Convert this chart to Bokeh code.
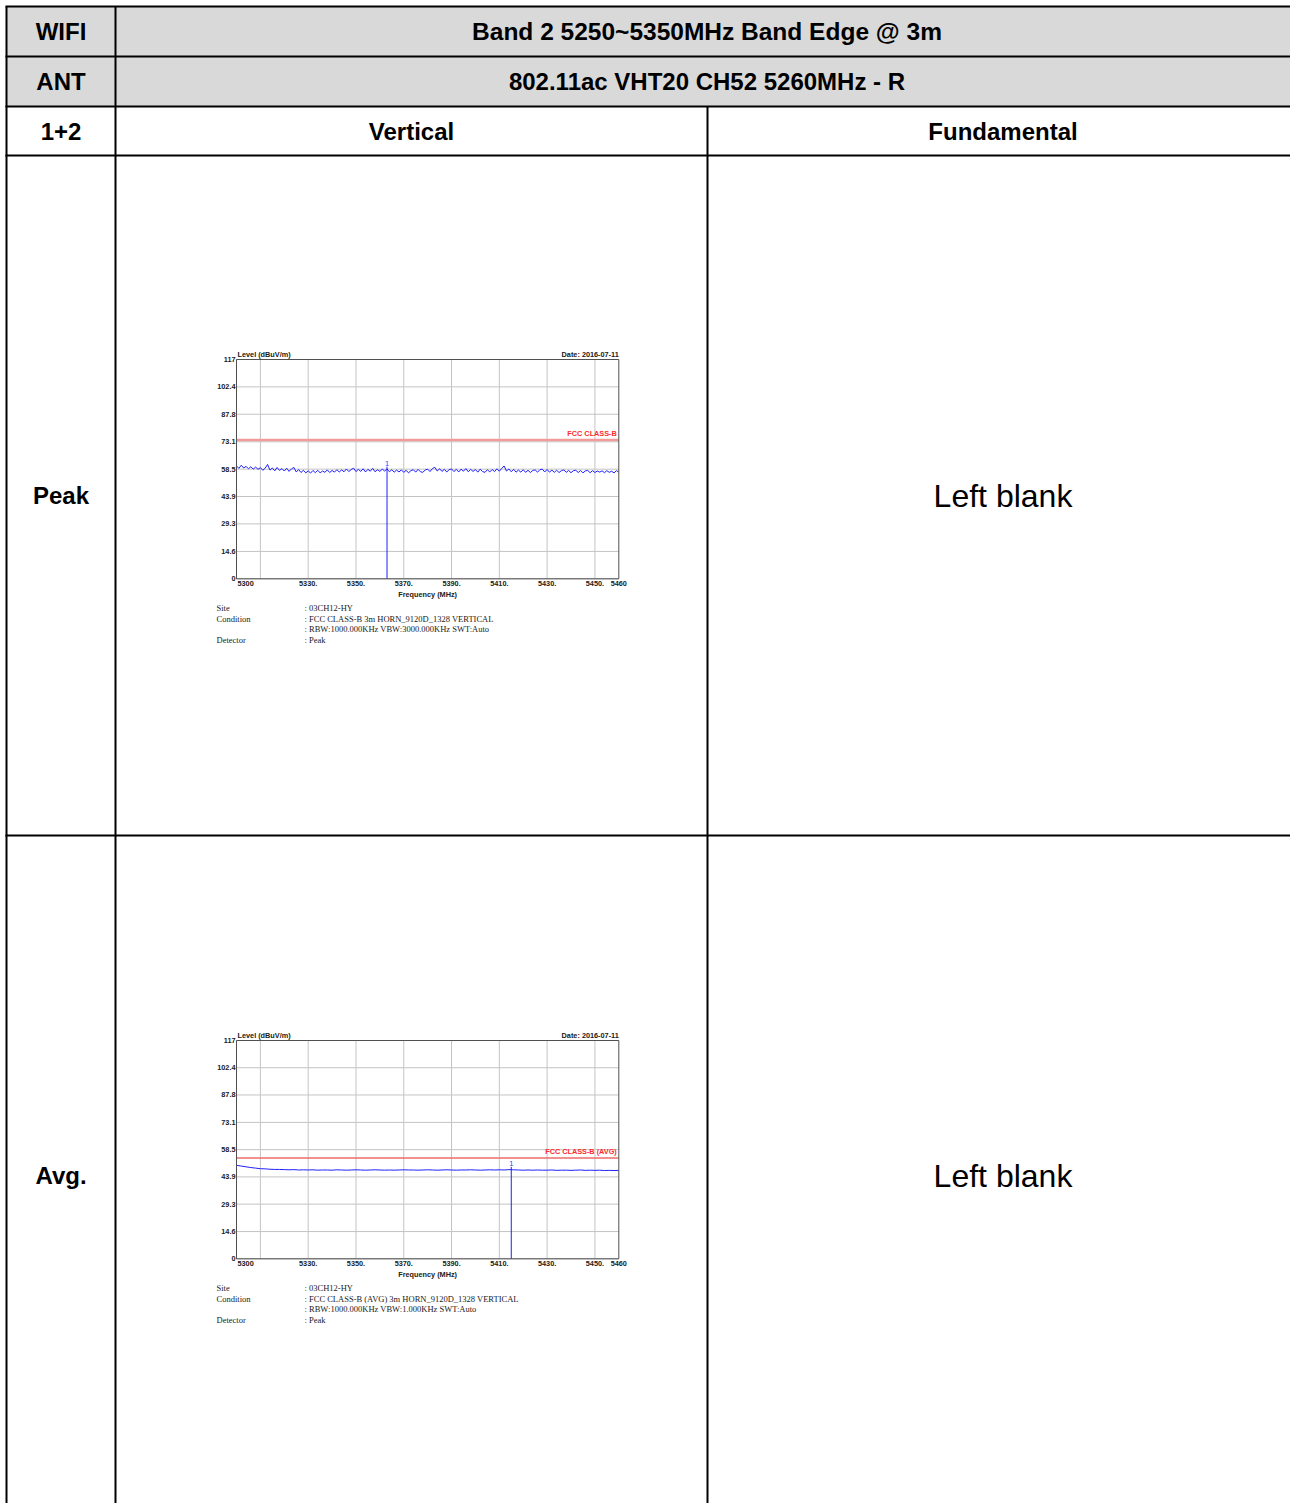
from bokeh.plotting import figure
from bokeh.models import Range1d
from bokeh.core.properties import value
from bokeh.embed import file_html
from bokeh.resources import INLINE

# ---------------- data ----------------
title_text = "Band 2 5250~5350MHz Band Edge @ 3m"
mode_text = "802.11ac VHT20 CH52 5260MHz - R"
row_labels = ["WIFI", "ANT", "1+2", "Peak", "Avg."]
col_labels = ["Vertical", "Fundamental"]
blank_text = "Left blank"

f_range = (5300, 5460)
lvl_range = (0, 117)
x_ticks = [5300, 5330, 5350, 5370, 5390, 5410, 5430, 5450, 5460]
x_tick_labels = ["5300", "5330.", "5350.", "5370.", "5390.", "5410.", "5430.", "5450.", "5460"]
x_grid = [5310, 5330, 5350, 5370, 5390, 5410, 5430, 5450]
y_ticks = [0, 14.6, 29.3, 43.9, 58.5, 73.1, 87.8, 102.4, 117]
y_tick_labels = ["0", "14.6", "29.3", "43.9", "58.5", "73.1", "87.8", "102.4", "117"]

peak_level = [
    60.2, 58.9, 60.6, 59.1, 60.0, 58.7, 59.8, 58.5, 59.6, 58.4,
    59.3, 57.9, 59.0, 61.0, 58.0, 59.1, 57.6, 59.4, 57.8, 58.8,
    57.5, 59.0, 57.3, 58.6, 59.4, 57.0, 58.3, 56.7, 57.9, 56.5,
    57.6, 56.4, 57.8, 56.6, 57.9, 56.5, 57.5, 56.8, 58.1, 56.7,
    57.8, 56.9, 58.2, 57.0, 58.1, 57.1, 58.6, 57.2, 58.3, 59.0,
    57.2, 58.4, 57.3, 58.7, 57.0, 58.4, 57.4, 58.9, 57.1, 58.2,
    57.3, 58.5, 57.5, 58.6, 57.1, 58.2, 56.9, 58.0, 57.0, 58.1,
    56.8, 57.9, 56.5, 57.7, 58.2, 56.9, 58.4, 57.1, 56.8, 58.1,
    58.5, 57.2, 58.8, 59.5, 57.5, 58.7, 57.3, 58.4, 57.0, 58.2,
    58.6, 57.2, 58.4, 57.0, 58.5, 57.4, 58.8, 57.1, 58.4, 57.3,
    58.3, 56.9, 58.5, 57.2, 56.8, 58.2, 57.0, 58.3, 57.2, 58.7,
    57.4, 58.9, 60.2, 57.5, 58.6, 57.1, 58.4, 56.9, 58.0, 56.9,
    58.2, 56.8, 57.9, 56.7, 57.8, 58.1, 56.9, 58.2, 58.5, 57.0,
    58.3, 56.9, 58.0, 56.8, 57.9, 56.7, 57.7, 58.1, 56.8, 57.8,
    56.6, 57.7, 57.9, 56.7, 57.8, 56.5, 57.6, 57.8, 56.6, 57.7,
    56.7, 57.5, 56.9, 57.6, 56.6, 57.7, 56.8, 57.4, 56.5, 57.7, 56.9,
]
peak_freq = [5300 + i for i in range(len(peak_level))]

avg_level = [
    50.1, 49.7, 49.3, 48.9, 48.6, 48.3, 48.2, 48.0, 47.9, 47.9,
    47.8, 47.7, 47.8, 47.6, 47.7, 47.6, 47.7, 47.5, 47.6, 47.6,
    47.5, 47.7, 47.6, 47.5, 47.6, 47.7, 47.6, 47.5, 47.6, 47.7,
    47.6, 47.5, 47.6, 47.5, 47.6, 47.7, 47.6, 47.6, 47.5, 47.6,
    47.7, 47.6, 47.5, 47.6, 47.7, 47.6, 47.5, 47.6, 47.6, 47.7,
    47.6, 47.5, 47.6, 47.7, 47.6, 47.7, 47.6, 47.8, 47.7, 47.6,
    47.5, 47.6, 47.5, 47.6, 47.5, 47.5, 47.6, 47.4, 47.5, 47.5,
    47.4, 47.5, 47.6, 47.4, 47.5, 47.4, 47.5, 47.3, 47.4, 47.3,
    47.4,
]
avg_freq = [5300 + 2 * i for i in range(len(avg_level))]

peak_limit = 74.0
avg_limit = 54.0
peak_marker = (5363, 58.3)
avg_marker = (5415, 47.8)
date_text = "Date: 2016-07-11"
y_title = "Level (dBuV/m)"
x_title = "Frequency (MHz)"

peak_info_keys = ["Site", "Condition", "", "Detector"]
peak_info_vals = [": 03CH12-HY", ": FCC CLASS-B 3m HORN_9120D_1328 VERTICAL",
                  ": RBW:1000.000KHz VBW:3000.000KHz SWT:Auto", ": Peak"]
avg_info_keys = ["Site", "Condition", "", "Detector"]
avg_info_vals = [": 03CH12-HY", ": FCC CLASS-B (AVG) 3m HORN_9120D_1328 VERTICAL",
                 ": RBW:1000.000KHz VBW:1.000KHz SWT:Auto", ": Peak"]

# ---------------- layout (page pixels) ----------------
W, H = 1290, 1503
SANS = "Liberation Sans"
SERIF = "Liberation Serif"
GRAY = "#d9d9d9"
VX = [6, 115, 707]          # vertical rule centres
HY = [6, 56, 106, 155, 835]  # horizontal rule centres
CL, CR = 236.0, 618.3        # chart box left/right
PEAK_TB = (359.0, 578.3)     # peak chart box top/bottom
AVG_TB = (1040.0, 1258.3)    # avg chart box top/bottom

p = figure(width=W, height=H, x_range=Range1d(0, W), y_range=Range1d(H, 0),
           min_border=0, x_axis_type=None, y_axis_type=None,
           toolbar_location=None, output_backend="svg",
           outline_line_color=None, background_fill_color="white",
           border_fill_color="white")

# frequency scale for both charts
fpp = (f_range[1] - f_range[0]) / (CR - CL)
p.extra_x_ranges = {"freq": Range1d(f_range[0] - CL * fpp,
                                    f_range[0] + (W - CL) * fpp)}


def level_range(tb):
    top, bot = tb
    lpp = (lvl_range[1] - lvl_range[0]) / (bot - top)
    return Range1d(lvl_range[0] + (bot - H) * lpp, lvl_range[0] + bot * lpp)


p.extra_y_ranges = {"peak": level_range(PEAK_TB), "avg": level_range(AVG_TB)}

# ---------------- table ----------------
p.quad(left=[VX[0]], right=[W], top=[HY[0]], bottom=[HY[2]],
       fill_color=GRAY, line_color=None)
p.segment(x0=[VX[0], VX[1], VX[2]], y0=[HY[0], HY[0], HY[2]],
          x1=[VX[0], VX[1], VX[2]], y1=[H, H, H],
          line_color="black", line_width=2)
p.segment(x0=[VX[0] - 1] * 5, y0=HY, x1=[W] * 5, y1=HY,
          line_color="black", line_width=2)

c1 = (VX[0] + VX[1]) / 2
c23 = (VX[1] + 1298) / 2
c2 = (VX[1] + VX[2]) / 2
c3 = (VX[2] + 1298) / 2
row_cy = [(HY[0] + HY[1]) / 2, (HY[1] + HY[2]) / 2, (HY[2] + HY[3]) / 2,
          (HY[3] + HY[4]) / 2, HY[4] + (HY[4] - HY[3]) / 2]

p.text(x=[c1] * 5, y=row_cy, text=row_labels, text_font=value(SANS),
       text_font_size="24px", text_font_style="bold", text_color="black",
       text_align="center", text_baseline="middle")
p.text(x=[c23], y=row_cy[:1], text=[title_text],
       text_font=value(SANS), text_font_size="24.5px", text_font_style="bold",
       text_color="black", text_align="center", text_baseline="middle")
p.text(x=[c23], y=row_cy[1:2], text=[mode_text],
       text_font=value(SANS), text_font_size="24px", text_font_style="bold",
       text_color="black", text_align="center", text_baseline="middle")
p.text(x=[c2, c3], y=[row_cy[2]] * 2, text=col_labels, text_font=value(SANS),
       text_font_size="24px", text_font_style="bold", text_color="black",
       text_align="center", text_baseline="middle")
p.text(x=[c3, c3], y=row_cy[3:], text=[blank_text, blank_text],
       text_font=value(SANS), text_font_size="32px", text_color="black",
       text_align="center", text_baseline="middle")


# ---------------- charts ----------------
def chart(yname, freq, level, limit, limit_color, limit_w, limit_text,
          marker, info_keys, info_vals):
    kw = dict(x_range_name="freq", y_range_name=yname)
    f0, f1 = f_range
    l0, l1 = lvl_range
    # grid
    p.segment(x0=x_grid, y0=[l0] * len(x_grid), x1=x_grid, y1=[l1] * len(x_grid),
              line_color="#c4c4c4", line_width=1, **kw)
    p.segment(x0=[f0] * len(y_ticks), y0=y_ticks, x1=[f1] * len(y_ticks),
              y1=y_ticks, line_color="#c4c4c4", line_width=1, **kw)
    # limit line
    p.segment(x0=[f0], y0=[limit], x1=[f1], y1=[limit],
              line_color=limit_color, line_width=limit_w, **kw)
    # trace
    p.line(freq, level, line_color="#1f1fff", line_width=1, **kw)
    mx, my = marker
    p.segment(x0=[mx], y0=[l0], x1=[mx], y1=[my + 1.5],
              line_color="#1f1fff", line_width=1, **kw)
    p.text(x=[mx], y=[my], text=["1"], y_offset=-4, text_align="center",
           text_baseline="bottom", text_font=value(SANS),
           text_font_size="7.5px", text_color="#3a3aff", **kw)
    # frame
    p.quad(left=[f0], right=[f1], bottom=[l0], top=[l1], fill_color=None,
           line_color="#505050", line_width=1, **kw)
    # tick labels
    tick = dict(text_font=value(SANS), text_font_size="7.3px",
                text_font_style="bold", text_color="#202020", **kw)
    p.text(x=[f0] * len(y_ticks), y=y_ticks, text=y_tick_labels, x_offset=-1,
           text_align="right", text_baseline="middle", **tick)
    p.text(x=x_ticks[:1], y=[l0], text=x_tick_labels[:1], x_offset=1,
           y_offset=2, text_align="left", text_baseline="top", **tick)
    p.text(x=x_ticks[1:], y=[l0] * (len(x_ticks) - 1), text=x_tick_labels[1:],
           y_offset=2, text_align="center", text_baseline="top", **tick)
    p.text(x=[(f0 + f1) / 2], y=[l0], text=[x_title], y_offset=11,
           text_align="center", text_baseline="top", **tick)
    p.text(x=[f0], y=[l1], text=[y_title], x_offset=1, y_offset=-1,
           text_align="left", text_baseline="bottom", **tick)
    p.text(x=[f1], y=[l1], text=[date_text], y_offset=-1,
           text_align="right", text_baseline="bottom", **tick)
    p.text(x=[f1], y=[limit], text=[limit_text], x_offset=-2, y_offset=-2,
           text_align="right", text_baseline="bottom", text_font=value(SANS),
           text_font_size="7.3px", text_font_style="bold",
           text_color="#ff2a2a", **kw)
    # info block
    offs = [29.5, 40, 50.5, 61]
    info = dict(text_font=value(SERIF), text_font_size="8.5px",
                text_color="#1a1a1a", text_align="left",
                text_baseline="middle", **kw)
    ks = [(k, o) for k, o in zip(info_keys, offs) if k]
    for k, o in ks:
        p.text(x=[f0], y=[l0], text=[k], x_offset=-20, y_offset=o, **info)
    for v, o in zip(info_vals, offs):
        p.text(x=[f0], y=[l0], text=[v], x_offset=68, y_offset=o, **info)


chart("peak", peak_freq, peak_level, peak_limit, "#f29a9a", 2.5,
      "FCC CLASS-B", peak_marker, peak_info_keys, peak_info_vals)
chart("avg", avg_freq, avg_level, avg_limit, "#f06a6a", 1.5,
      "FCC CLASS-B (AVG)", avg_marker, avg_info_keys, avg_info_vals)

open("out.html", "w").write(file_html(p, INLINE))
